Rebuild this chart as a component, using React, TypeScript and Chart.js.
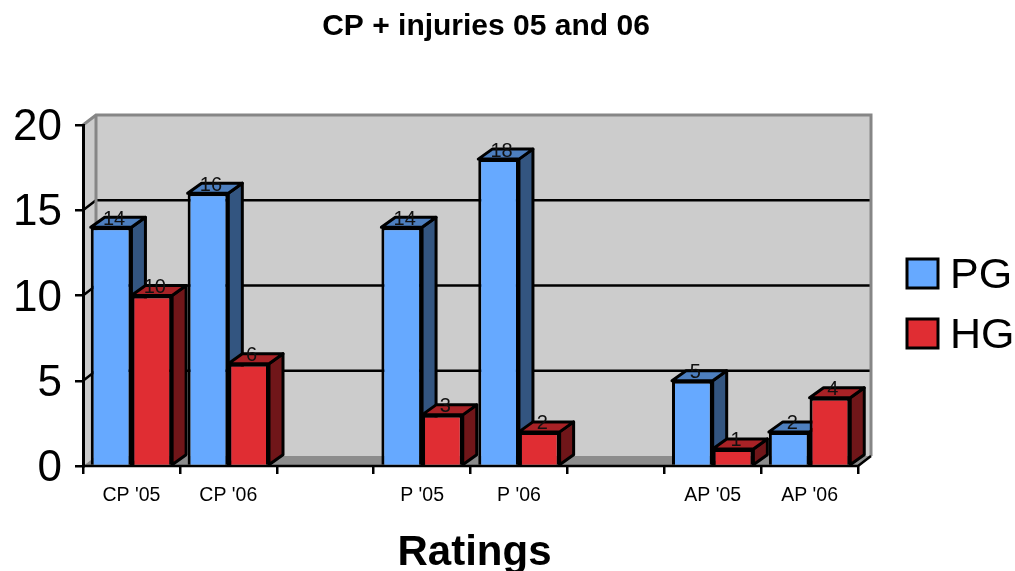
import React, { useEffect, useRef } from "react";
import { Chart, registerables } from "chart.js";

Chart.register(...registerables);

const categories = ["CP '05", "CP '06", "", "P '05", "P '06", "", "AP '05", "AP '06"];
const pgValues = [14, 16, null, 14, 18, null, 5, 2];
const hgValues = [10, 6, null, 3, 2, null, 1, 4];
const yTicks = [0, 5, 10, 15, 20];

const FONT = "'Liberation Sans', Arial, sans-serif";
const WALL_DX = 13;
const WALL_DY = 10;
const BAR_DX = 14;
const BAR_DY = 10;

const shades: Record<string, { front: string; top: string; side: string }> = {
  PG: { front: "#66A9FF", top: "#4D7FBF", side: "#335580" },
  HG: { front: "#E02D33", top: "#A82226", side: "#701619" },
};

function poly(ctx: CanvasRenderingContext2D, pts: number[][], fill: string | null, stroke: string | null, lw = 3) {
  ctx.beginPath();
  pts.forEach((p, i) => (i ? ctx.lineTo(p[0], p[1]) : ctx.moveTo(p[0], p[1])));
  ctx.closePath();
  if (fill) {
    ctx.fillStyle = fill;
    ctx.fill();
  }
  if (stroke) {
    ctx.strokeStyle = stroke;
    ctx.lineWidth = lw;
    ctx.lineJoin = "round";
    ctx.stroke();
  }
}

const threeD = {
  id: "threeD",
  afterLayout(chart: any) {
    if (chart.titleBlock) {
      chart.titleBlock.left = 0;
      chart.titleBlock.right = 972;
    }
    // centre the axis title where the reference has it; ticks are already configured
    chart.scales.x.right += 8;
  },
  beforeDraw(chart: any) {
    const { ctx, chartArea: a, scales } = chart;
    const y = scales.y;
    const x0 = a.left;
    const x1 = a.right;
    const b = a.bottom;
    const t = a.top;
    ctx.save();
    poly(ctx, [[x0, b], [x0 + WALL_DX, b - WALL_DY], [x0 + WALL_DX, t - WALL_DY], [x0, t]], "#CCCCCC", null);
    poly(ctx, [[x0 + WALL_DX, b - WALL_DY], [x1 + WALL_DX, b - WALL_DY], [x1 + WALL_DX, t - WALL_DY], [x0 + WALL_DX, t - WALL_DY]], "#CCCCCC", null);
    poly(ctx, [[x0, b], [x0 + WALL_DX, b - WALL_DY], [x1 + WALL_DX, b - WALL_DY], [x1, b]], "#8C8C8C", null);
    ctx.lineWidth = 2.5;
    for (const tick of y.ticks) {
      if (tick.value === 0 || tick.value === 20) continue;
      const py = y.getPixelForValue(tick.value);
      ctx.strokeStyle = "#000";
      ctx.beginPath();
      ctx.moveTo(x0, py);
      ctx.lineTo(x0 + WALL_DX, py - WALL_DY);
      ctx.lineTo(x1 + WALL_DX, py - WALL_DY);
      ctx.stroke();
    }
    ctx.strokeStyle = "#868686";
    ctx.lineWidth = 3;
    ctx.beginPath();
    ctx.moveTo(x0, t);
    ctx.lineTo(x0 + WALL_DX, t - WALL_DY);
    ctx.lineTo(x1 + WALL_DX, t - WALL_DY);
    ctx.lineTo(x1 + WALL_DX, b - WALL_DY);
    ctx.moveTo(x0 + WALL_DX, t - WALL_DY);
    ctx.lineTo(x0 + WALL_DX, b - WALL_DY);
    ctx.stroke();
    ctx.strokeStyle = "#000";
    ctx.lineWidth = 2.5;
    ctx.beginPath();
    ctx.moveTo(x1, b);
    ctx.lineTo(x1 + WALL_DX, b - WALL_DY);
    ctx.moveTo(x0, b);
    ctx.lineTo(x1, b);
    ctx.stroke();
    ctx.restore();
  },
  beforeDatasetsDraw(chart: any) {
    const { ctx } = chart;
    ctx.save();
    chart.data.datasets.forEach((ds: any, di: number) => {
      const s = shades[ds.label];
      chart.getDatasetMeta(di).data.forEach((bar: any, i: number) => {
        if (ds.data[i] == null) return;
        const { x, y, base, width } = bar.getProps(["x", "y", "base", "width"], true);
        const l = x - width / 2;
        const r = x + width / 2;
        poly(ctx, [[r, y], [r + BAR_DX, y - BAR_DY], [r + BAR_DX, base - BAR_DY], [r, base]], s.side, "#000");
        poly(ctx, [[l, y], [l + BAR_DX, y - BAR_DY], [r + BAR_DX, y - BAR_DY], [r, y]], s.top, "#000");
      });
    });
    ctx.restore();
  },
  afterDatasetsDraw(chart: any) {
    const { ctx } = chart;
    ctx.save();
    ctx.font = `20px ${FONT}`;
    ctx.textAlign = "center";
    ctx.textBaseline = "middle";
    ctx.fillStyle = "#111";
    chart.data.datasets.forEach((ds: any, di: number) => {
      chart.getDatasetMeta(di).data.forEach((bar: any, i: number) => {
        if (ds.data[i] == null) return;
        const { x, y } = bar.getProps(["x", "y"], true);
        ctx.fillText(String(ds.data[i]), x + 3, y - 8);
      });
    });
    ctx.font = `43px ${FONT}`;
    ctx.textAlign = "left";
    const boxX = 907;
    const boxY = [259, 319];
    chart.data.datasets.forEach((ds: any, di: number) => {
      ctx.fillStyle = ds.backgroundColor;
      ctx.strokeStyle = "#000";
      ctx.lineWidth = 3;
      ctx.fillRect(boxX, boxY[di], 31, 29);
      ctx.strokeRect(boxX, boxY[di], 31, 29);
      ctx.fillStyle = "#000";
      ctx.fillText(ds.label, boxX + 43, boxY[di] + 17);
    });
    ctx.restore();
  },
};

export default function App() {
  const ref = useRef<HTMLCanvasElement>(null);
  useEffect(() => {
    const chart = new Chart(ref.current!, {
      type: "bar",
      plugins: [threeD],
      data: {
        labels: categories,
        datasets: [
          { label: "PG", data: pgValues, backgroundColor: shades.PG.front, borderColor: "#000", borderWidth: 3 },
          { label: "HG", data: hgValues, backgroundColor: shades.HG.front, borderColor: "#000", borderWidth: 3 },
        ],
      } as any,
      options: {
        animation: false,
        responsive: false,
        devicePixelRatio: 1,
        categoryPercentage: 0.84,
        barPercentage: 1,
        layout: { padding: { left: 0, right: 157, top: 0, bottom: 0 } },
        plugins: {
          legend: { display: false },
          tooltip: { enabled: false },
          title: {
            display: true,
            text: "CP + injuries 05 and 06",
            color: "#000",
            font: { family: FONT, size: 30, weight: "bold", lineHeight: 1.2 },
            padding: { top: 9, bottom: 80 },
          },
        },
        scales: {
          x: {
            offset: true,
            afterFit: (s: any) => {
              s.height = 105;
            },
            grid: { drawOnChartArea: false, drawTicks: true, tickLength: 8, color: "#000", lineWidth: 2.5, offset: true },
            border: { display: false },
            ticks: {
              autoSkip: false,
              maxRotation: 0,
              minRotation: 0,
              color: "#000",
              padding: 10,
              font: { family: FONT, size: 19.5 },
            },
            title: {
              display: true,
              text: "Ratings",
              color: "#000",
              font: { family: FONT, size: 42, weight: "bold", lineHeight: 1.2 },
              padding: { top: 0, bottom: -8 },
            },
          },
          y: {
            min: 0,
            max: 20,
            afterFit: (s: any) => {
              s.width = 83;
            },
            afterBuildTicks: (s: any) => {
              s.ticks = yTicks.map((value) => ({ value }));
            },
            grid: { drawOnChartArea: false, drawTicks: true, tickLength: 8, color: "#000", lineWidth: 2.5 },
            border: { color: "#000", width: 3 },
            ticks: { color: "#000", padding: 13, labelOffset: 3, font: { family: FONT, size: 44 } },
          },
        },
      } as any,
    });
    return () => chart.destroy();
  }, []);
  return (
    <canvas
      ref={ref}
      width={1015}
      height={571}
      style={{ position: "absolute", left: 0, top: 0, width: 1015, height: 571, display: "block" }}
    />
  );
}
